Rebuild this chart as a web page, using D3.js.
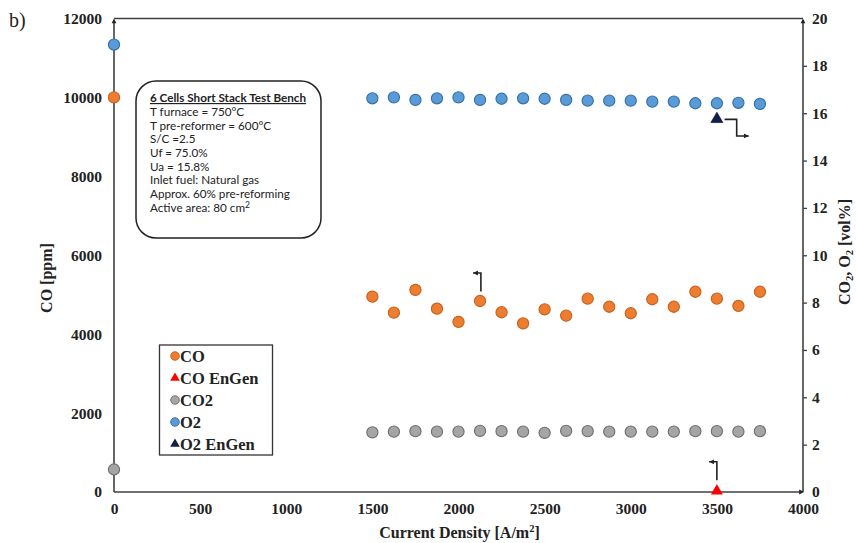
<!DOCTYPE html>
<html>
<head>
<meta charset="utf-8">
<script src="https://cdn.jsdelivr.net/npm/d3@7"></script>
<style>
  html, body { margin: 0; padding: 0; background: #fff; }
  svg { display: block; }
</style>
</head>
<body>
<svg id="chart" width="856" height="543"></svg>
<script>
// ---------- data ----------
const currents = [0, 1500, 1625, 1750, 1875, 2000, 2125, 2250, 2375, 2500, 2625, 2750, 2875, 3000, 3125, 3250, 3375, 3500, 3625, 3750];
const coPpm   = [10000, 4950, 4545, 5120, 4645, 4310, 4840, 4555, 4275, 4630, 4470, 4900, 4695, 4530, 4885, 4695, 5075, 4900, 4715, 5075];
const co2Vol  = [0.95, 2.52, 2.55, 2.57, 2.55, 2.55, 2.58, 2.57, 2.55, 2.50, 2.58, 2.57, 2.55, 2.55, 2.55, 2.55, 2.57, 2.57, 2.55, 2.57];
const o2Vol   = [18.9, 16.63, 16.67, 16.56, 16.63, 16.67, 16.56, 16.61, 16.63, 16.61, 16.56, 16.53, 16.53, 16.53, 16.49, 16.49, 16.42, 16.42, 16.44, 16.39];
const enGenCurrent = [3500];
const coEnGen = [0];
const o2EnGen = [15.75];

const xTicks = [0, 500, 1000, 1500, 2000, 2500, 3000, 3500, 4000];
const yLeftTicks = [0, 2000, 4000, 6000, 8000, 10000, 12000];
const yRightTicks = [0, 2, 4, 6, 8, 10, 12, 14, 16, 18, 20];

const legendItems = ["CO", "CO EnGen", "CO2", "O2", "O2 EnGen"];
const infoLines = ["T furnace = 750°C", "T pre-reformer = 600°C", "S/C =2.5", "Uf = 75.0%", "Ua = 15.8%", "Inlet fuel: Natural gas", "Approx. 60% pre-reforming"];
const infoTitle = "6 Cells Short Stack Test Bench";

// ---------- layout ----------
const svg = d3.select("#chart");
const L = 114, R = 803, T = 18.5, B = 492;
const x = d3.scaleLinear().domain([0, 4000]).range([L, R]);
const yL = d3.scaleLinear().domain([0, 12000]).range([B, T]);
const yR = d3.scaleLinear().domain([0, 20]).range([B, T]);

const serif = "'Liberation Serif', 'Times New Roman', serif";
const axisCol = "#404040";
const colors = {
  co:  {fill: "#ED7D31", stroke: "#C8601C"},
  co2: {fill: "#A5A5A5", stroke: "#6E6E6E"},
  o2:  {fill: "#5B9BD5", stroke: "#2F6FAE"},
  coEn: "#FF0000",
  o2En: "#0F1F4F"
};

// ---------- axes ----------
const gx = svg.append("g").attr("transform", `translate(0,${B})`)
  .call(d3.axisBottom(x).tickValues(xTicks).tickSize(0).tickPadding(11).tickFormat(d3.format("d")));
const gyl = svg.append("g").attr("transform", `translate(${L},0)`)
  .call(d3.axisLeft(yL).tickValues(yLeftTicks).tickSize(0).tickPadding(12).tickFormat(d3.format("d")));
const gyr = svg.append("g").attr("transform", `translate(${R},0)`)
  .call(d3.axisRight(yR).tickValues(yRightTicks).tickSize(4).tickPadding(5).tickFormat(d3.format("d")));

[gx, gyl, gyr].forEach(g => {
  g.attr("font-family", serif);
  g.select(".domain").remove();
  g.selectAll(".tick line").attr("stroke", axisCol).attr("stroke-width", 1.3);
  g.selectAll(".tick text").attr("font-family", serif).attr("font-weight", "bold")
    .attr("font-size", 15.5).attr("fill", "#222");
});
gyr.selectAll(".tick").filter(d => d === 0 || d === 20).select("line").remove();
gx.selectAll(".tick text").attr("dy", "0.71em");

// axis lines + frame
const lineAttrs = sel => sel.attr("stroke", axisCol).attr("stroke-width", 1.6).attr("fill", "none");
svg.append("line").attr("x1", L).attr("x2", R).attr("y1", T).attr("y2", T).call(lineAttrs);
svg.append("line").attr("x1", L).attr("x2", L).attr("y1", B).attr("y2", T + 3).call(lineAttrs);
svg.append("line").attr("x1", R).attr("x2", R).attr("y1", B).attr("y2", T + 3).call(lineAttrs);
svg.append("line").attr("x1", L).attr("x2", R - 3).attr("y1", B).attr("y2", B).call(lineAttrs);
// arrowheads
const head = (px, py, dir, s = 4) => {
  let p;
  if (dir === "up") p = [[px, py], [px - s * 0.6, py + s * 1.2], [px + s * 0.6, py + s * 1.2]];
  if (dir === "right") p = [[px, py], [px - s * 1.2, py - s * 0.6], [px - s * 1.2, py + s * 0.6]];
  if (dir === "left") p = [[px, py], [px + s * 1.2, py - s * 0.6], [px + s * 1.2, py + s * 0.6]];
  svg.append("path").attr("d", d3.line()(p) + "Z").attr("fill", "#222");
};
head(L, T, "up");
head(R, T, "up");
head(R + 1, B, "right");

// axis titles
svg.append("text").attr("x", (L + R) / 2 + 1).attr("y", 538).attr("text-anchor", "middle")
  .attr("font-family", serif).attr("font-weight", "bold").attr("font-size", 16).attr("fill", "#222")
  .call(t => {
    t.append("tspan").text("Current Density [A/m");
    t.append("tspan").attr("dy", -6).attr("font-size", 10.5).text("2");
    t.append("tspan").attr("dy", 6).text("]");
  });
svg.append("text").attr("transform", `translate(52,278) rotate(-90)`).attr("text-anchor", "middle")
  .attr("font-family", serif).attr("font-weight", "bold").attr("font-size", 16).attr("fill", "#222")
  .text("CO [ppm]");
svg.append("text").attr("transform", `translate(850,252) rotate(-90)`).attr("text-anchor", "middle")
  .attr("font-family", serif).attr("font-weight", "bold").attr("font-size", 16).attr("fill", "#222")
  .call(t => {
    t.append("tspan").text("CO");
    t.append("tspan").attr("dy", 3).attr("font-size", 10.5).text("2");
    t.append("tspan").attr("dy", -3).text(", O");
    t.append("tspan").attr("dy", 3).attr("font-size", 10.5).text("2");
    t.append("tspan").attr("dy", -3).text(" [vol%]");
  });

// panel label
svg.append("text").attr("x", 9).attr("y", 27).attr("font-family", serif).attr("font-size", 20)
  .attr("fill", "#222").text("b)");

// ---------- annotation arrows (data units) ----------
const arrowLine = (pts, ys, dir) => {
  const p = pts.map(d => [x(d[0]), ys(d[1])]);
  svg.append("path").attr("d", d3.line()(p)).attr("stroke", "#222").attr("stroke-width", 1.6).attr("fill", "none");
  const last = p[p.length - 1];
  head(last[0], last[1], dir, 4);
};
arrowLine([[2130, 5080], [2130, 5550], [2085, 5550]], yL, "left");
arrowLine([[3500, 300], [3500, 765], [3455, 765]], yL, "left");
arrowLine([[3545, 15.74], [3615, 15.74], [3615, 15.04], [3685, 15.04]], yR, "right");

// ---------- info box ----------
const box = svg.append("g");
box.append("rect").attr("x", 136).attr("y", 81).attr("width", 185).attr("height", 157)
  .attr("rx", 20).attr("ry", 20).attr("fill", "#fff").attr("stroke", "#222").attr("stroke-width", 1.5);
const sans = "Lato, 'Open Sans', sans-serif";
const fs = 11.7;
box.append("text").attr("x", 150).attr("y", 102).attr("font-family", sans).attr("font-weight", "bold")
  .attr("font-size", fs).attr("fill", "#222").attr("text-decoration", "underline").text(infoTitle);
infoLines.forEach((s, i) => {
  box.append("text").attr("x", 150).attr("y", 115.8 + i * 13.7).attr("font-family", sans)
    .attr("font-size", fs).attr("fill", "#222").text(s);
});
box.append("text").attr("x", 150).attr("y", 115.8 + infoLines.length * 13.7).attr("font-family", sans)
  .attr("font-size", fs).attr("fill", "#222")
  .call(t => {
    t.append("tspan").text("Active area: 80 cm");
    t.append("tspan").attr("dy", -4).attr("font-size", 8.5).text("2");
  });

// ---------- series ----------
const sym = d3.symbol().type(d3.symbolTriangle).size(62);
function dots(vals, ys, c) {
  svg.append("g").selectAll("circle").data(currents.map((cx, i) => [cx, vals[i]])).join("circle")
    .attr("cx", d => x(d[0])).attr("cy", d => ys(d[1])).attr("r", 5.6)
    .attr("fill", c.fill).attr("stroke", c.stroke).attr("stroke-width", 1.1);
}
dots(o2Vol, yR, colors.o2);
dots(coPpm, yL, colors.co);
dots(co2Vol, yR, colors.co2);

svg.append("g").selectAll("path").data(enGenCurrent.map((cx, i) => [cx, coEnGen[i]])).join("path")
  .attr("d", sym).attr("transform", d => `translate(${x(d[0])},${yL(d[1]) - 1})`).attr("fill", colors.coEn);
svg.append("g").selectAll("path").data(enGenCurrent.map((cx, i) => [cx, o2EnGen[i]])).join("path")
  .attr("d", sym).attr("transform", d => `translate(${x(d[0])},${yR(d[1])})`).attr("fill", colors.o2En)
  .attr("stroke", "#000").attr("stroke-width", 0.6);

// ---------- legend ----------
const lg = svg.append("g");
lg.append("rect").attr("x", 159.5).attr("y", 345).attr("width", 113).attr("height", 110)
  .attr("fill", "#fff").attr("stroke", "#333").attr("stroke-width", 1.3);
const legSym = [
  {type: "c", c: colors.co},
  {type: "t", c: colors.coEn},
  {type: "c", c: colors.co2},
  {type: "c", c: colors.o2},
  {type: "t", c: colors.o2En}
];
legendItems.forEach((name, i) => {
  const cy = 356 + i * 22;
  const s = legSym[i];
  if (s.type === "c") {
    lg.append("circle").attr("cx", 175).attr("cy", cy).attr("r", 4.3)
      .attr("fill", s.c.fill).attr("stroke", s.c.stroke).attr("stroke-width", 0.9);
  } else {
    lg.append("path").attr("d", d3.symbol().type(d3.symbolTriangle).size(40))
      .attr("transform", `translate(175,${cy})`).attr("fill", s.c);
  }
  lg.append("text").attr("x", 180).attr("y", cy + 5.5).attr("font-family", serif).attr("font-weight", "bold")
    .attr("font-size", 16.5).attr("fill", "#222").text(name);
});
</script>
</body>
</html>
